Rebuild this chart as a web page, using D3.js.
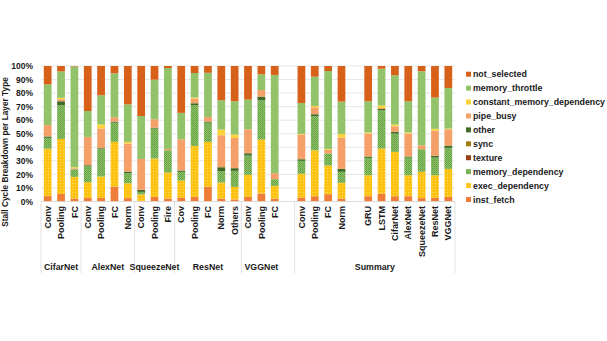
<!DOCTYPE html>
<html>
<head>
<meta charset="utf-8">
<script src="https://cdn.jsdelivr.net/npm/d3@7/dist/d3.min.js"></script>
<style>
  body { margin: 0; background: #fff; }
  text { font-family: "Liberation Sans", Arial, sans-serif; fill: #1a1a1a; }
</style>
</head>
<body>
<svg id="chart" width="607" height="341"></svg>
<script>
// categories (blank entries are the empty slots of the original sheet)
var groups = ["CifarNet","CifarNet","CifarNet","AlexNet","AlexNet","AlexNet","AlexNet",
  "SqueezeNet","SqueezeNet","SqueezeNet","ResNet","ResNet","ResNet","ResNet","ResNet",
  "VGGNet","VGGNet","VGGNet","VGGNet",
  "Summary","Summary","Summary","Summary","Summary","Summary","Summary","Summary","Summary","Summary","Summary","Summary"];
var layers = ["Conv","Pooling","FC","Conv","Pooling","FC","Norm",
  "Conv","Pooling","Fire","Cov","Pooling","FC","Norm","Others",
  "Conv","Pooling","FC","",
  "Conv","Pooling","FC","Norm","","GRU","LSTM","CifarNet","AlexNet","SqueezeNet","ResNet","VGGNet"];

// series values (%), one per category, null for blank slots
var inst_fetch      = [4,5.5,2.2,2.7,2.7,11,2.5, 0.5,3.4,2.2, 2.7,3.4,10.8,2.2,1.5, 3.4,5.9,2.2,null, 2.9,3.9,5.4,2.2,null, 3.9,5.7,3.9,3.9,2.5,2.7,3.4];
var exec_dependency = [35,40.7,16,11.6,15.7,33,11, 4.7,28.3,19.2, 12.8,37.6,33.2,11.8,9.3, 16.3,39.8,9.3,null, 17.5,33.9,21.1,11.6,null, 15.5,33.4,32.7,15.5,19.4,16.7,20.7];
var memory_dependency = [8,24.8,5.6,12,20.2,14.2,7.4, 1.9,22.1,16.4, 6.4,30,14.2,8.4,11.8, 14.2,29,5,null, 9.6,25.1,8.9,8.1,null, 12.8,28.2,13.5,13,16.7,13,15.5];
var texture         = [0,0,0,0,0,0,0, 0,0,0, 0,0,0,0,0, 0,0,0,null, 0,0,0,0,null, 0,0,0,0,0,0,0];
var sync            = [0,0,0,0,0,0,0, 0,0,0, 0,0,0,0,0, 0,0,0,null, 0,0,0,0,null, 0,0,0,0,0,0,0];
var other           = [1,3,0,0.5,0.7,0.8,1.2, 1.5,0.7,0, 1,1.5,0.8,2.9,2, 1.7,2.7,0,null, 1.2,1.5,0,2.2,null, 1,1,1.3,0.8,0,1.3,1.7];
var pipe_busy       = [8.5,1.5,0.7,20.9,14.5,3.2,20.7, 22.8,6.2,1, 23,3.4,3.4,23.6,22.3, 17.7,4.9,4.4,null, 18.2,5.1,2.7,23.1,null, 16.9,0.7,4.1,16.9,2.9,18.6,12];
var constant_memory_dependency = [0,1,0.8,0,3,0,1.2, 0,0,0, 0,0.8,0,4.2,2.5, 0,0,0,null, 0.5,1,0.7,2.7,null, 0.8,1.8,1.3,0.8,0,1.3,0.5];
var memory_throttle = [30,19.5,74.4,19.1,21.6,32.4,27.7, 31.7,29.2,59.7, 19.5,18.1,32.6,21.6,24.6, 21.9,11.6,72.5,null, 22.8,21.6,57.5,23.8,null, 23.1,27.2,36.3,23.1,54.6,23.1,30];
var not_selected    = [13.5,4,0.3,33.2,21.6,5.4,28.3, 36.9,10.1,1.5, 34.6,5.2,5,25.3,26, 24.8,6.1,6.6,null, 27.3,7.9,3.7,26.3,null, 26,2,6.9,26,3.9,23.3,16.2];

var yTicks = [0,10,20,30,40,50,60,70,80,90,100];

// stack order, bottom to top
var keys = ["inst_fetch","exec_dependency","memory_dependency","texture","sync","other",
  "pipe_busy","constant_memory_dependency","memory_throttle","not_selected"];
var seriesData = {inst_fetch: inst_fetch, exec_dependency: exec_dependency, memory_dependency: memory_dependency,
  texture: texture, sync: sync, other: other, pipe_busy: pipe_busy,
  constant_memory_dependency: constant_memory_dependency, memory_throttle: memory_throttle, not_selected: not_selected};
var colors = {inst_fetch: "#ee7d3a", exec_dependency: "url(#pat-exec)", memory_dependency: "url(#pat-mem)",
  texture: "#9a3f12", sync: "#a07c10", other: "#3f6b27", pipe_busy: "#f4a068",
  constant_memory_dependency: "#fdd33a", memory_throttle: "#92c36a", not_selected: "#d8611a"};

var rows = layers.map(function(l, i) {
  var r = {idx: i, blank: l === ""};
  keys.forEach(function(k) { r[k] = seriesData[k][i] || 0; });
  return r;
});

var svg = d3.select("svg#chart");
var defs = svg.append("defs");
var pm = defs.append("pattern").attr("id","pat-mem").attr("patternUnits","userSpaceOnUse").attr("width",2).attr("height",2);
pm.append("rect").attr("width",2).attr("height",2).attr("fill","#8dc366");
pm.append("rect").attr("width",1).attr("height",1).attr("fill","#619b42");
pm.append("rect").attr("x",1).attr("y",1).attr("width",1).attr("height",1).attr("fill","#6ea84c");
var pe = defs.append("pattern").attr("id","pat-exec").attr("patternUnits","userSpaceOnUse").attr("width",3).attr("height",3);
pe.append("rect").attr("width",3).attr("height",3).attr("fill","#fdc10f");
pe.append("rect").attr("width",1).attr("height",1).attr("fill","#ffdc6a");

var plotLeft = 41, plotRight = 455, plotTop = 66, plotBottom = 201.5;
var x = d3.scaleBand().domain(d3.range(layers.length)).range([plotLeft, plotRight]).paddingInner(0.42).paddingOuter(0.21);
var y = d3.scaleLinear().domain([0,100]).range([plotBottom, plotTop]);
var step = x.step();

// gridlines
svg.append("g").selectAll("line").data(yTicks).enter().append("line")
  .attr("x1", plotLeft).attr("x2", plotRight)
  .attr("y1", function(d) { return y(d); }).attr("y2", function(d) { return y(d); })
  .attr("stroke", "#e1e1e1").attr("stroke-width", 0.8);

// y axis labels
var yAxis = d3.axisLeft(y).tickValues(yTicks).tickFormat(function(d) { return d + "%"; }).tickSize(0).tickPadding(8);
var ya = svg.append("g").attr("transform","translate(" + plotLeft + ",0)").call(yAxis);
ya.select(".domain").remove();
ya.selectAll("text").style("font-size","8.5px").style("font-weight","bold").attr("fill","#1a1a1a");

// bars
var stacked = d3.stack().keys(keys)(rows);
svg.append("g").selectAll("g").data(stacked).enter().append("g")
  .attr("fill", function(d) { return colors[d.key]; })
  .selectAll("rect").data(function(d) { return d.filter(function(p) { return !p.data.blank && p[1] > p[0]; }); })
  .enter().append("rect")
  .attr("x", function(d) { return x(d.data.idx); })
  .attr("width", x.bandwidth())
  .attr("y", function(d) { return y(d[1]); })
  .attr("height", function(d) { return y(d[0]) - y(d[1]); });

// category labels
svg.append("g").selectAll("text").data(rows.filter(function(r) { return !r.blank; })).enter().append("text")
  .attr("transform", function(d) { return "translate(" + (x(d.idx) + x.bandwidth() / 2) + ",206) rotate(-90)"; })
  .attr("dy", "0.35em").attr("text-anchor","end")
  .style("font-size","9px").style("font-weight","bold")
  .text(function(d) { return layers[d.idx]; });

// group separators and names
var groupNames = [];
groups.forEach(function(g, i) { if (i === 0 || groups[i-1] !== g) groupNames.push({name: g, start: i}); });
groupNames.forEach(function(g, j) {
  g.end = j < groupNames.length - 1 ? groupNames[j+1].start : groups.length;
  var filled = d3.range(g.start, g.end).filter(function(i) { return layers[i] !== ""; });
  g.mid = (x(filled[0]) + x(filled[filled.length-1]) + x.bandwidth()) / 2;
});
var bounds = groupNames.map(function(g) { return g.start; }).concat([groups.length]);
svg.append("g").selectAll("line").data(bounds).enter().append("line")
  .attr("x1", function(d) { return plotLeft + d * step; }).attr("x2", function(d) { return plotLeft + d * step; })
  .attr("y1", plotBottom).attr("y2", 273)
  .attr("stroke","#d9d9d9").attr("stroke-width",0.8);
svg.append("line").attr("x1",plotLeft).attr("x2",plotRight).attr("y1",plotBottom).attr("y2",plotBottom)
  .attr("stroke","#d9d9d9").attr("stroke-width",0.8);
svg.append("g").selectAll("text").data(groupNames).enter().append("text")
  .attr("x", function(d) { return d.mid; }).attr("y", 270)
  .attr("text-anchor","middle").style("font-size","8.8px").style("font-weight","bold")
  .text(function(d) { return d.name; });

// y title
svg.append("text").attr("transform","translate(5.5,152) rotate(-90)")
  .attr("dy","0.35em").attr("text-anchor","middle")
  .style("font-size","8.3px").style("font-weight","bold")
  .text("Stall Cycle Breakdown per Layer Type");

// legend, top item = top of stack
var legendKeys = keys.slice().reverse();
var lg = svg.append("g").selectAll("g").data(legendKeys).enter().append("g")
  .attr("transform", function(d, i) { return "translate(466," + (74.3 + i * 13.92) + ")"; });
lg.append("rect").attr("x",0).attr("y",-2.6).attr("width",5).attr("height",5)
  .attr("fill", function(d) { return colors[d]; });
lg.append("text").attr("x",7).attr("dy","0.35em")
  .style("font-size","8.8px").style("font-weight","bold")
  .text(function(d) { return d; });
</script>
</body>
</html>
